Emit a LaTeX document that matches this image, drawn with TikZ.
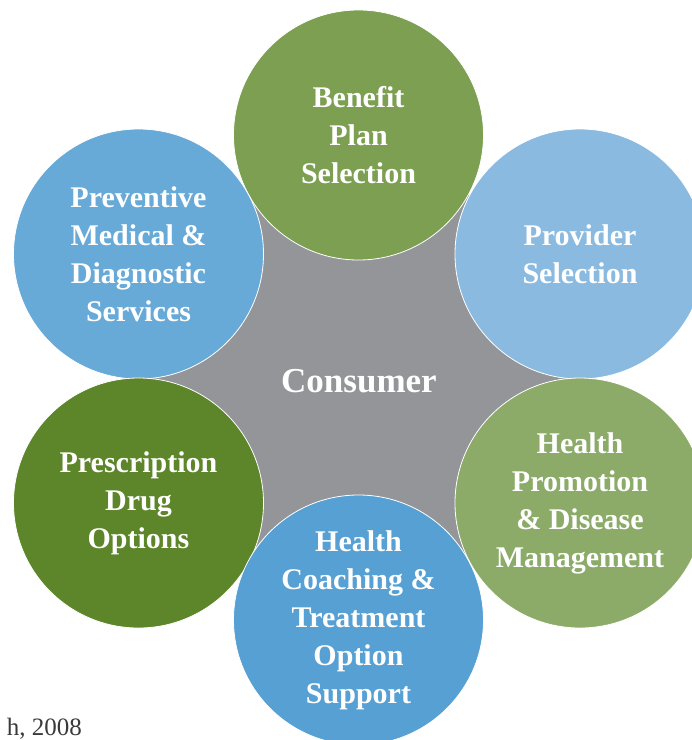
\documentclass[tikz,border=0pt]{standalone}
\usepackage{fontspec}
\setmainfont{Liberation Serif}
\definecolor{cgray}{HTML}{939598}
\definecolor{cbenefit}{HTML}{7C9F52}
\definecolor{cprev}{HTML}{67A9D7}
\definecolor{cprov}{HTML}{8ABAE0}
\definecolor{crx}{HTML}{5D8529}
\definecolor{cpromo}{HTML}{8CAB69}
\definecolor{ccoach}{HTML}{57A0D4}
\definecolor{csrc}{HTML}{3A3A3A}
\tikzset{
  bubble/.style={circle, minimum size=250pt, inner sep=0pt, draw=white, line width=0.8pt,
    text=white, align=center, font=\bfseries\fontsize{30}{38}\selectfont},
  hublabel/.style={text=white, font=\bfseries\fontsize{35}{40}\selectfont},
  srclabel/.style={text=csrc, font=\fontsize{25}{28}\selectfont, inner sep=0pt}
}
\begin{document}
\begin{tikzpicture}[x=1pt,y=-1pt]
\useasboundingbox (0,0) rectangle (692,740);
\clip (0,0) rectangle (692,740);
\coordinate (cb) at (358.5,135);
\coordinate (cpv) at (580,254);
\coordinate (cpm) at (580,503);
\coordinate (cc) at (358.5,620);
\coordinate (cr) at (138.5,503);
\coordinate (cp) at (138.5,254);
\fill[cgray] (cb) -- (cpv) -- (cpm) -- (cc) -- (cr) -- (cp) -- cycle;
\node[hublabel] (consumer) at (359,381) {Consumer};
\node[bubble, fill=cbenefit] (benefit) at (cb) {Benefit\\Plan\\Selection};
\node[bubble, fill=cprev] (prev) at (cp) {Preventive\\Medical \&\\Diagnostic\\Services};
\node[bubble, fill=cprov] (prov) at (cpv) {Provider\\Selection};
\node[bubble, fill=crx] (rx) at (cr) {Prescription\\Drug\\Options};
\node[bubble, fill=cpromo] (promo) at (cpm) {Health\\Promotion\\\& Disease\\Management};
\node[bubble, fill=ccoach] (coach) at (cc) {Health\\Coaching \&\\Treatment\\Option\\Support};
\node[srclabel, anchor=base east] (src) at (82,735) {h, 2008};
\end{tikzpicture}
\end{document}
